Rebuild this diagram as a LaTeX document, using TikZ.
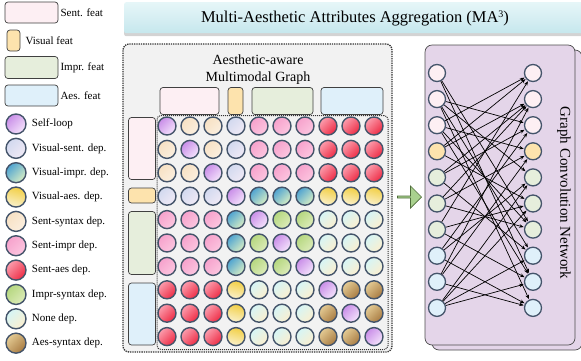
\documentclass[tikz,border=0pt]{standalone}
\usepackage{fontspec}
\setmainfont{Liberation Serif}
\usetikzlibrary{positioning, arrows.meta, shapes.arrows, shadows}

\definecolor{sentpink}{HTML}{FDEFF3}
\definecolor{visorange}{HTML}{FDE3AD}
\definecolor{imprgreen}{HTML}{E6EEDC}
\definecolor{aesblue}{HTML}{DFF0FA}
\definecolor{depline}{HTML}{44546A}
\definecolor{panelgray}{HTML}{F2F2F2}
\definecolor{cardlilac}{HTML}{E4D5E9}
\definecolor{arrowgreen}{HTML}{A9D18E}
\definecolor{arrowline}{HTML}{4E6B3A}
\definecolor{bartop}{HTML}{E6F6F8}
\definecolor{barbottom}{HTML}{C6E7ED}
% dependency shades
\definecolor{slA}{HTML}{C98EE8}\definecolor{slB}{HTML}{F5E4FC}
\definecolor{vsA}{HTML}{D2D9EF}\definecolor{vsB}{HTML}{F0EAF6}
\definecolor{viA}{HTML}{4FA3D1}\definecolor{viB}{HTML}{D8EEC4}
\definecolor{vaA}{HTML}{F2CF45}\definecolor{vaB}{HTML}{FAF1CC}
\definecolor{ssA}{HTML}{F7E1C4}\definecolor{ssB}{HTML}{FBEFDF}
\definecolor{siA}{HTML}{F6A2CC}\definecolor{siB}{HTML}{FCC6E0}
\definecolor{saA}{HTML}{FB9DAD}\definecolor{saB}{HTML}{EE2C45}
\definecolor{isA}{HTML}{B5D77F}\definecolor{isB}{HTML}{DDECBA}
\definecolor{ndA}{HTML}{D6F5F6}\definecolor{ndB}{HTML}{FBEFCF}
\definecolor{asA}{HTML}{E4CB94}\definecolor{asB}{HTML}{A87B42}

\begin{document}
\begin{tikzpicture}[
    x=1pt, y=-1pt,
    >={Stealth[length=4.5pt, width=3.5pt]},
    featbox/.style={draw=black!75, rounded corners=3pt, line width=0.7pt, inner sep=0pt},
    legtext/.style={font=\fontsize{11}{13}\selectfont, inner sep=0pt, anchor=west},
    dep/.style={circle, draw=depline, line width=1.4pt, minimum size=18pt, inner sep=0pt},
    selfloop/.style={top color=slA, bottom color=slB, shading angle=45},
    vissent/.style={top color=vsA, bottom color=vsB, shading angle=45},
    visimpr/.style={top color=viA, bottom color=viB, shading angle=45},
    visaes/.style={top color=vaA, bottom color=vaB, shading angle=-15},
    sentsyn/.style={top color=ssA, bottom color=ssB, shading angle=45},
    sentimpr/.style={top color=siA, bottom color=siB, shading angle=45},
    sentaes/.style={top color=saA, bottom color=saB, shading angle=45},
    imprsyn/.style={top color=isA, bottom color=isB, shading angle=45},
    nonedep/.style={top color=ndA, bottom color=ndB, shading angle=45},
    aessyn/.style={top color=asA, bottom color=asB, shading angle=45},
    card/.style={draw=black!70, fill=cardlilac, rounded corners=7pt, line width=0.7pt},
    gnode/.style={circle, draw=depline, line width=1.3pt, minimum size=17pt, inner sep=0pt},
    gedge/.style={->, line width=0.7pt, black, shorten >=0.5pt},
  ]
  \useasboundingbox (0,0) rectangle (581,360);

  % title bar
  \node[draw=none, top color=bartop, bottom color=barbottom, rounded corners=2pt,
    drop shadow={shadow xshift=0pt, shadow yshift=-3pt, opacity=0.35},
    minimum width=480pt, minimum height=31pt, anchor=north west] (titlebar) at (124,2) {};
  \node[font=\fontsize{16.5}{18}\selectfont] (titletext) at (355,18)
    {Multi-Aesthetic Attributes Aggregation (MA{\fontsize{10}{10}\selectfont\raisebox{5pt}{3}})};

  % legend
  \node[featbox, fill=sentpink, minimum width=53pt, minimum height=21pt] (lgsent) at (31.5,12.5) {};
  \node[legtext, right=2pt of lgsent] (lgsenttxt) {Sent. feat};
  \node[featbox, fill=visorange, minimum width=13pt, minimum height=21pt] (lgvis) at (13.5,40.5) {};
  \node[legtext, right=5pt of lgvis] (lgvistxt) {Visual feat};
  \node[featbox, fill=imprgreen, minimum width=53pt, minimum height=22pt] (lgimpr) at (31.5,67.5) {};
  \node[legtext, right=2pt of lgimpr] (lgimprtxt) {Impr. feat};
  \node[featbox, fill=aesblue, minimum width=53pt, minimum height=21pt] (lgaes) at (31.5,95.5) {};
  \node[legtext, right=2pt of lgaes] (lgaestxt) {Aes. feat};

  \foreach \st/\txt [count=\k from 0] in {selfloop/Self-loop, vissent/Visual-sent. dep.,
      visimpr/Visual-impr. dep., visaes/Visual-aes. dep., sentsyn/Sent-syntax dep.,
      sentimpr/Sent-impr dep., sentaes/Sent-aes dep., imprsyn/Impr-syntax dep.,
      nonedep/None dep., aessyn/Aes-syntax dep.} {
    \node[dep, \st, minimum size=20pt] (lg\k) at (16, 124+24.35*\k) {};
    \node[legtext, right=5pt of lg\k] (lgt\k) {\txt};
  }

  % aesthetic-aware multimodal graph
  \node[draw=black!80, densely dotted, line width=1.3pt, fill=panelgray, rounded corners=6pt,
    minimum width=269pt, minimum height=308pt] (graphpanel) at (257.5,198) {};
  \node[font=\fontsize{14}{17}\selectfont, align=center] (graphtitle) at (258,70)
    {Aesthetic-aware\\Multimodal Graph};
  \node[draw=black!80, densely dotted, line width=1pt, fill=panelgray, rounded corners=4pt,
    minimum width=231pt, minimum height=234pt] (matrixframe) at (272.5,232.5) {};

  \node[featbox, fill=sentpink, minimum width=59pt, minimum height=27pt] (topsent) at (189.5,101) {};
  \node[featbox, fill=visorange, minimum width=15pt, minimum height=27pt] (topvis) at (235.5,101) {};
  \node[featbox, fill=imprgreen, minimum width=61pt, minimum height=27pt] (topimpr) at (282.5,101) {};
  \node[featbox, fill=aesblue, minimum width=62pt, minimum height=27pt] (topaes) at (352,101) {};

  \node[featbox, fill=sentpink, minimum width=27pt, minimum height=62pt] (leftsent) at (142,148.5) {};
  \node[featbox, fill=visorange, minimum width=27pt, minimum height=15pt] (leftvis) at (142,195.5) {};
  \node[featbox, fill=imprgreen, minimum width=27pt, minimum height=63pt] (leftimpr) at (142,243) {};
  \node[featbox, fill=aesblue, minimum width=27pt, minimum height=62pt] (leftaes) at (142,314) {};

  \foreach \row [count=\r from 0] in {
      {selfloop,sentsyn,sentsyn,vissent,sentimpr,sentimpr,sentimpr,sentaes,sentaes,sentaes},
      {sentsyn,selfloop,sentsyn,vissent,sentimpr,sentimpr,sentimpr,sentaes,sentaes,sentaes},
      {sentsyn,sentsyn,selfloop,vissent,sentimpr,sentimpr,sentimpr,sentaes,sentaes,sentaes},
      {vissent,vissent,vissent,selfloop,visimpr,visimpr,visimpr,visaes,visaes,visaes},
      {sentimpr,sentimpr,sentimpr,visimpr,selfloop,imprsyn,imprsyn,nonedep,nonedep,nonedep},
      {sentimpr,sentimpr,sentimpr,visimpr,imprsyn,selfloop,imprsyn,nonedep,nonedep,nonedep},
      {sentimpr,sentimpr,sentimpr,visimpr,imprsyn,imprsyn,selfloop,nonedep,nonedep,nonedep},
      {sentaes,sentaes,sentaes,visaes,nonedep,nonedep,nonedep,selfloop,aessyn,aessyn},
      {sentaes,sentaes,sentaes,visaes,nonedep,nonedep,nonedep,aessyn,selfloop,aessyn},
      {sentaes,sentaes,sentaes,visaes,nonedep,nonedep,nonedep,aessyn,aessyn,selfloop}} {
    \foreach \st [count=\c from 0] in \row {
      \node[dep, \st] (m\r-\c) at (167+23*\c, 126+23.4*\r) {};
    }
  }

  % flow arrow
  \node[single arrow, draw=arrowline, fill=arrowgreen, line width=0.7pt, inner sep=0pt,
    minimum height=24pt, minimum width=22pt, single arrow head extend=3.5pt] (flow) at (409,197) {};

  % graph convolution network
  \node[card, minimum width=150pt, minimum height=300pt] (gcnback) at (507,200) {};
  \node[card, minimum width=150pt, minimum height=300pt] (gcnfront) at (500,195) {};
  \node[rotate=-90, font=\fontsize{15}{17}\selectfont] (gcntext) at (564,193)
    {Graph Convolution Network};

  \foreach \st [count=\k from 0] in {sentpink,sentpink,sentpink,visorange,imprgreen,
      imprgreen,imprgreen,aesblue,aesblue,aesblue} {
    \node[gnode, fill=\st] (gl\k) at (437, 73+26.1*\k) {};
    \node[gnode, fill=\st] (gr\k) at (533, 73+26.1*\k) {};
  }

  \foreach \a/\b in {0/6, 0/8, 1/2, 1/4, 1/7, 1/9, 2/0, 2/3, 2/6, 2/8,
      3/0, 3/1, 3/5, 4/1, 4/2, 4/7, 5/1, 5/3, 5/6, 6/0, 6/5, 6/8,
      7/2, 7/4, 7/9, 8/1, 8/3, 8/9, 9/4, 9/5, 9/7, 9/8}
    \draw[gedge] (gl\a) -- (gr\b);

\end{tikzpicture}
\end{document}
